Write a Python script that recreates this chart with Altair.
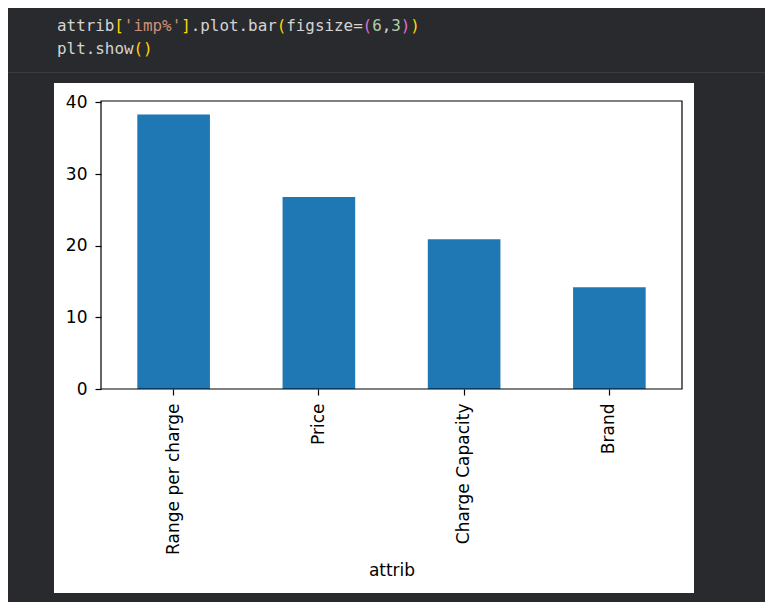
import altair as alt
import pandas as pd

# ---- data ----
categories = ["Range per charge", "Price", "Charge Capacity", "Brand"]
imp_pct = [38.3, 26.8, 20.9, 14.2]
y_ticks = [0, 10, 20, 30, 40]

# code cell text (segments with syntax colours)
code_line = [0, 0, 0, 0, 0, 0, 0, 0, 0, 0, 0, 0, 0, 1, 1]
code_col = [0, 6, 7, 13, 14, 23, 24, 32, 33, 34, 35, 36, 37, 0, 8]
code_text = ["attrib", "[", "'imp%'", "]", ".plot.bar", "(", "figsize=", "(", "6", ",", "3", ")", ")",
             "plt.show", "()"]
code_color = ["#d4d4d4", "#ffd700", "#ce9178", "#ffd700", "#d4d4d4", "#ffd700", "#d4d4d4", "#da70d6",
              "#b5cea8", "#d4d4d4", "#b5cea8", "#da70d6", "#ffd700", "#d4d4d4", "#ffd700"]

bars_df = pd.DataFrame({"attrib": categories, "imp": imp_pct})
code_df = pd.DataFrame({"line": code_line, "col": code_col, "text": code_text, "color": code_color})
dummy = pd.DataFrame({"a": [0]})

W, H = 581, 288
OX, OY = 101, 101  # page position of the plot area

white_bg = alt.Chart(dummy).mark_rect(color="white").encode(
    x=alt.value(54 - OX), x2=alt.value(694 - OX), y=alt.value(83 - OY), y2=alt.value(593 - OY)
)

separator = alt.Chart(dummy).mark_rule(color="#3b3c40", strokeWidth=1).encode(
    x=alt.value(8 - OX), x2=alt.value(765 - OX), y=alt.value(72.5 - OY)
)

code = alt.Chart(code_df).mark_text(
    align="left", baseline="alphabetic", font="DejaVu Sans Mono", fontSize=15.9
).encode(
    x=alt.X("col:Q", scale=alt.Scale(domain=[0, 38], range=[57 - OX, 57 - OX + 38 * 9.55]), axis=None),
    y=alt.Y("line:Q", scale=alt.Scale(domain=[0, 1], range=[31 - OY, 54 - OY]), axis=None),
    text="text:N",
    color=alt.Color("color:N", scale=None),
)

bars = alt.Chart(bars_df).mark_bar(color="#1f77b4").encode(
    x=alt.X(
        "attrib:N",
        sort=categories,
        scale=alt.Scale(domain=categories, paddingInner=0.5, paddingOuter=0.25),
        axis=alt.Axis(
            title="attrib", labelAngle=270, labelFont="DejaVu Sans", labelFontSize=17,
            labelColor="black", labelLimit=400, labelPadding=8,
            tickColor="black", tickSize=6, tickWidth=1.2, domain=False,
            titleFont="DejaVu Sans", titleFontSize=17, titleFontWeight="normal",
            titleColor="black", titlePadding=8, zindex=1,
        ),
    ),
    y=alt.Y(
        "imp:Q",
        title=None,
        scale=alt.Scale(domain=[0, 40.2], nice=False, zero=True),
        axis=alt.Axis(
            values=y_ticks, grid=False, labelFont="DejaVu Sans", labelFontSize=17,
            labelColor="black", labelPadding=8, tickColor="black", tickSize=6,
            tickWidth=1.2, domain=False, zindex=1,
        ),
    ),
)

frame = alt.Chart(dummy).mark_rect(filled=False, stroke="black", strokeWidth=1.2).encode(
    x=alt.value(0), x2=alt.value(W), y=alt.value(0), y2=alt.value(H)
)

chart = (
    alt.layer(white_bg, separator, code, bars, frame)
    .resolve_scale(x="independent", y="independent")
    .properties(
        width=W,
        height=H,
        padding={"left": OX - 8, "top": OY - 8, "right": 765 - OX - W, "bottom": 602 - OY - H},
        autosize=alt.AutoSizeParams(type="none"),
    )
    .configure(background="#292a2d")
    .configure_view(stroke=None)
)

chart.save("out.html", embed_options={"renderer": "svg", "actions": False})
